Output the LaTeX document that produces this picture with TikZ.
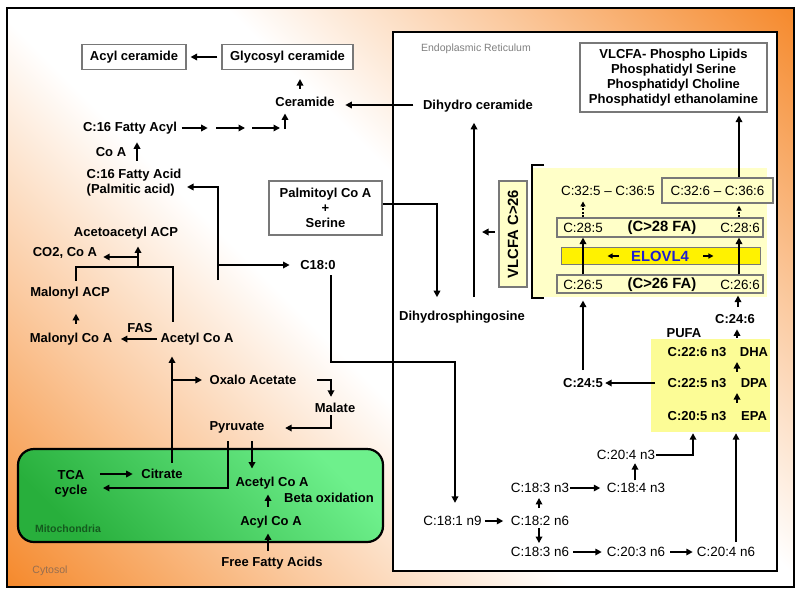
\documentclass[tikz,border=0pt]{standalone}
\usepackage{fontspec}
\setmainfont{Liberation Sans}
\usetikzlibrary{arrows.meta,calc}
\definecolor{orng}{RGB}{245,135,40}
\definecolor{mitoL}{RGB}{110,240,140}
\definecolor{mitoD}{RGB}{40,175,60}
\definecolor{paleY}{RGB}{255,255,200}
\definecolor{pufaY}{RGB}{252,252,150}
\definecolor{elblue}{RGB}{30,30,210}
\definecolor{boxgray}{RGB}{120,120,120}
\definecolor{cytc}{RGB}{150,110,80}
\definecolor{mitotxt}{RGB}{20,90,30}
\pgfdeclareverticalshading{bgshade}{100bp}{color(0bp)=(orng); color(14bp)=(orng); color(30bp)=(orng!45!white); color(44bp)=(white); color(56bp)=(white); color(70bp)=(orng!45!white); color(86bp)=(orng); color(100bp)=(orng)}
\newcommand{\fB}{\fontsize{13}{15}\selectfont\bfseries}
\newcommand{\fR}{\fontsize{13.4}{15}\selectfont}
\newcommand{\fL}{\fontsize{14.8}{17}\selectfont\bfseries}
\newcommand{\fS}{\fontsize{10.5}{12}\selectfont}
\begin{document}
\begin{tikzpicture}[x=1pt,y=-1pt,
 tb/.style={font=\fB, inner sep=0.5pt, align=center},
 tr/.style={font=\fR, inner sep=0.5pt},
 gbox/.style={draw=boxgray, line width=1.1pt, fill=white, font=\fB, align=center, inner sep=0pt},
 ybox/.style={draw=boxgray, line width=1.1pt, fill=paleY, inner sep=0pt},
 ln/.style={draw, line width=1.8pt},
 arr/.style={draw, line width=1.8pt, -{Triangle[length=6.5pt,width=6.5pt]}},
 sarr/.style={draw, line width=1.3pt, -{Triangle[length=5pt,width=5pt]}},
 darr/.style={draw, line width=1.5pt, dash pattern=on 2pt off 1.6pt, -{Triangle[length=5pt,width=5pt]}},
]
\useasboundingbox (0,0) rectangle (800,595);
% background
\fill[white] (0,0) rectangle (800,595);
\shade[shading=bgshade, shading angle=-45] (7,8) rectangle (794,587);
\draw[line width=2pt] (7,8) rectangle (794,587);
\node[font=\fS, text=cytc] (cyt) at (50,571) {Cytosol};
% ER
\draw[line width=2pt, fill=white] (393,32) rectangle (777,571);
\node[font=\fS, text=gray] (er) at (476,49) {Endoplasmic Reticulum};
% Mitochondria
\shade[rounded corners=16pt, top color=mitoL, bottom color=mitoD, shading angle=-45] (18,449) rectangle (383,542);
\draw[line width=2.2pt, rounded corners=16pt] (18,449) rectangle (383,542);
\node[font=\fS\bfseries, text=mitotxt] (mito) at (68,529) {Mitochondria};

% top-left nodes
\node[gbox, minimum width=104pt, minimum height=25pt] (acyl) at (134,57) {Acyl ceramide};
\node[gbox, minimum width=131pt, minimum height=25pt] (glyco) at (287.5,57) {Glycosyl ceramide};
\node[tb] (cer) at (305,102) {Ceramide};
\node[tb] (fa16acyl) at (130,128) {C:16 Fatty Acyl};
\node[tb] (coa) at (111,152) {Co A};
\node[tb, align=left, anchor=west] (fa16acid) at (86,182.5) {C:16 Fatty Acid\\(Palmitic acid)};
\node[gbox, minimum width=113pt, minimum height=54pt] (palm) at (325.5,208) {Palmitoyl Co A\\+\\Serine};
\node[tb] (c180) at (318,265) {C18:0};
\node[tb] (acac) at (126,233) {Acetoacetyl ACP};
\node[tb] (co2) at (65,253) {CO2, Co A};
\node[tb] (malacp) at (70,293) {Malonyl ACP};
\node[tb] (malcoa) at (71,339) {Malonyl Co A};
\node[tb] (acetyl) at (197,339) {Acetyl Co A};
\node[tb] (fas) at (140,328) {FAS};
\node[tb] (oxalo) at (253,380) {Oxalo Acetate};
\node[tb] (malate) at (335,408) {Malate};
\node[tb] (pyr) at (237,427) {Pyruvate};
\node[tb] (tca) at (71,484) {TCA\\cycle};
\node[tb] (citrate) at (162,474) {Citrate};
\node[tb] (macetyl) at (272,483) {Acetyl Co A};
\node[tb] (beta) at (329,498) {Beta oxidation};
\node[tb] (acylcoa) at (271,522) {Acyl Co A};
\node[tb] (ffa) at (272,563) {Free Fatty Acids};

% ER nodes
\node[tb] (dhcer) at (478,106) {Dihydro ceramide};
\node[tb] (dhs) at (462,317) {Dihydrosphingosine};
\node[gbox, minimum width=187pt, minimum height=69pt] (vpl) at (673.5,77.5) {VLCFA- Phospho Lipids\\Phosphatidyl Serine\\Phosphatidyl Choline\\Phosphatidyl ethanolamine};
\node[fill=paleY, minimum width=234pt, minimum height=129pt, inner sep=0pt] (vbg) at (650,232.5) {};
\draw[line width=1.6pt] (544,165) -- (532,165) -- (532,298) -- (544,298);
\node[ybox, rotate=90, minimum width=106pt, minimum height=28pt, font=\fL] (vlcfa) at (513,234) {VLCFA C>26};
\node[tr] (c325) at (608,191) {C:32:5 -- C:36:5};
\node[ybox, minimum width=111pt, minimum height=25pt, font=\fR] (c326) at (717.5,190.5) {C:32:6 -- C:36:6};
\node[ybox, minimum width=206pt, minimum height=19pt] (row28) at (660,227.5) {};
\node[tr] (c285) at (583,228) {C:28:5};
\node[font=\fL, inner sep=0.5pt] (fa28) at (662,228) {(C>28 FA)};
\node[tr] (c286) at (740,228) {C:28:6};
\node[draw=boxgray, line width=1pt, fill=yellow, minimum width=199pt, minimum height=17pt, inner sep=0pt] (elovl) at (660.5,255.5) {};
\node[font=\fL, text=elblue, inner sep=0.5pt] (elovltxt) at (660,256) {ELOVL4};
\node[ybox, minimum width=206pt, minimum height=18pt] (row26) at (660,284) {};
\node[tr] (c265) at (583,284.5) {C:26:5};
\node[font=\fL, inner sep=0.5pt] (fa26) at (662,284.5) {(C>26 FA)};
\node[tr] (c266) at (740,284.5) {C:26:6};
\node[tb] (c246) at (735,319) {C:24:6};
\node[tb] (pufa) at (684,333) {PUFA};
\node[fill=pufaY, minimum width=119pt, minimum height=93pt, inner sep=0pt] (pufabox) at (710.5,385.5) {};
\node[tb] (c226) at (697,352) {C:22:6 n3};
\node[tb] (dha) at (754,352) {DHA};
\node[tb] (c225) at (697,383) {C:22:5 n3};
\node[tb] (dpa) at (754,383) {DPA};
\node[tb] (c205) at (697,416) {C:20:5 n3};
\node[tb] (epa) at (754,416) {EPA};
\node[tb] (c245) at (583,383) {C:24:5};
\node[tr] (c204n3) at (626,455) {C:20:4 n3};
\node[tr] (c184n3) at (636,488) {C:18:4 n3};
\node[tr] (c183n3) at (540,488) {C:18:3 n3};
\node[tr] (c182) at (540,521) {C:18:2 n6};
\node[tr] (c181) at (452.5,521) {C:18:1 n9};
\node[tr] (c183n6) at (540,552) {C:18:3 n6};
\node[tr] (c203n6) at (636,552) {C:20:3 n6};
\node[tr] (c204n6) at (726,552) {C:20:4 n6};

% ---------- connectors: left ----------
\draw[arr, shorten <=4pt, shorten >=4pt] (glyco.west) -- (acyl.east);
\draw[arr, shorten <=8pt, shorten >=9pt] (cer.north -| 300,0) -- (glyco.south -| 300,0);
\draw[arr] ($(fa16acyl.east)+(4,0)$) -- ++(26,0);
\coordinate (ch2a) at (216,128); \coordinate (ch2b) at (245,128);
\draw[arr] (ch2a) -- (ch2b);
\coordinate (ch3a) at (252,128); \coordinate (ch3b) at (280,128);
\draw[arr] (ch3a) -- (ch3b);
\draw[arr, shorten >=6pt] (285,129) -- (cer.south -| 285,0);
\draw[arr, shorten <=7.5pt, shorten >=7.5pt] (fa16acid.north -| 137,0) -- (fa16acyl.south -| 137,0);
\coordinate (pa0) at (218,280);
\draw[arr, shorten >=5pt] (pa0) -- (218,187) -- (fa16acid.east |- 0,187);
\draw[arr, shorten >=10pt] (218,265) -- (c180.west);
\draw[arr, shorten >=13pt] ($(palm.east)+(0,-4)$) -- (437,204) -- (dhs.north -| 437,0);
\draw[arr, shorten <=13pt, shorten >=10pt] (dhs.north -| 474,0) -- (dhcer.south -| 474,0);
\draw[arr, shorten >=10pt] ($(dhcer.west)+(-9,-1)$) -- (cer.east |- 0,105);

\draw[arr, shorten >=8pt] ($(acetyl.west)+(-3,0)$) -- (malcoa.east);
\draw[arr, shorten <=8.5pt, shorten >=14pt] (malcoa.north -| 76,0) -- (malacp.south -| 76,0);
\draw[ln] ($(malacp.north -| 76,0)+(0,-5.5)$) -- (76,267) -- (173,267) -- ($(acetyl.north -| 173,0)+(0,-10.5)$);
\draw[ln] (138,268) -- (138,257);
\draw[arr, shorten >=5.4pt] (138,257) -- (co2.east |- 0,257);
\draw[arr, shorten >=6.7pt] (138,258) -- (acac.south -| 138,0);

\draw[arr, shorten <=5.7pt, shorten >=10.7pt] (citrate.north -| 172,0) -- (acetyl.south -| 172,0);
\draw[arr, shorten >=7pt] (172,380) -- (oxalo.west);
\draw[arr, shorten >=5.7pt] ($(oxalo.east)+(20,0)$) -- (331,380) -- (malate.north -| 331,0);
\draw[arr, shorten <=2pt, shorten >=20pt] (malate.south -| 331,0) -- (331,428) -- (pyr.east |- 0,428);
\draw[arr, shorten <=7.7pt, shorten >=15pt] (pyr.south -| 228,0) -- (228,488) -- (tca.east |- 0,488);
\draw[arr, shorten <=7.7pt, shorten >=7.7pt] (pyr.south -| 252,0) -- (macetyl.north -| 252,0);
\draw[arr, shorten >=8pt] ($(tca.east |- 0,474)+(12,0)$) -- (citrate.west);
\draw[arr, shorten <=8.7pt, shorten >=4.7pt] (acylcoa.north -| 268,0) -- (macetyl.south -| 268,0);
\draw[arr, shorten <=5.7pt, shorten >=4.7pt] (ffa.north -| 268,0) -- (acylcoa.south -| 268,0);

\draw[arr, shorten <=4.7pt, shorten >=12.7pt] (c180.south -| 331,0) -- (331,362) -- (455,362) -- (c181.north -| 455,0);

% ---------- connectors: ER ----------
\draw[arr, shorten >=3pt] (c326.north -| 739,0) -- (vpl.south -| 739,0);
\draw[arr] ($(vlcfa.center)+(-18,-2)$) -- ++(-13,0);
\draw[arr] (row26.north -| 583,0) -- (row28.south -| 583,0);
\draw[arr] (row26.north -| 739,0) -- (row28.south -| 739,0);
\draw[darr, shorten >=5pt] (row28.north -| 583,0) -- (c325.south -| 583,0);
\draw[darr, shorten >=2pt] (row28.north -| 739,0) -- (c326.south -| 739,0);
\draw[sarr] ($(elovltxt.west)+(-12,0)$) -- ++(-11,0);
\draw[sarr] ($(elovltxt.east)+(14,0)$) -- ++(10,0);
\draw[arr, shorten <=6.7pt, shorten >=2pt] (c246.north -| 738,0) -- (row26.south -| 738,0);
\draw[arr, shorten <=8.7pt, shorten >=5pt] (c226.north -| 737,0) -- (c246.south -| 737,0);
\draw[arr, shorten <=5.7pt, shorten >=4.7pt] (c225.north -| 737,0) -- (c226.south -| 737,0);
\draw[arr, shorten <=7.7pt, shorten >=4.7pt] (c205.north -| 737,0) -- (c225.south -| 737,0);
\draw[arr, shorten >=1.6pt] ($(c225.west)+(-12,0)$) -- (c245.east);
\draw[arr, shorten <=7.7pt, shorten >=7pt] (c245.north -| 583,0) -- (row26.south -| 583,0);
\draw[arr, shorten >=1pt] (c204n3.east) -- (693,455) -- (pufabox.south -| 693,0);
\draw[arr, shorten <=2.3pt, shorten >=2.7pt] (c184n3.north -| 635,0) -- (c204n3.south -| 635,0);
\draw[arr, shorten >=6pt] (c183n3.east) -- (c184n3.west);
\draw[arr, shorten <=7.5pt, shorten >=4.5pt] (c182.north -| 539,0) -- (c183n3.south -| 539,0);
\draw[arr, shorten <=1.5pt, shorten >=3.5pt] (c182.south -| 539,0) -- (c183n6.north -| 539,0);
\draw[arr, shorten <=2.5pt, shorten >=7pt] (c181.east) -- (c182.west);
\draw[arr, shorten <=3.5pt, shorten >=4.5pt] (c183n6.east) -- (c203n6.west);
\draw[arr, shorten <=4.5pt, shorten >=3.5pt] (c203n6.east) -- (c204n6.west);
\draw[arr, shorten <=4.5pt, shorten >=1pt] (c204n6.north -| 736,0) -- (pufabox.south -| 736,0);
\end{tikzpicture}
\end{document}
